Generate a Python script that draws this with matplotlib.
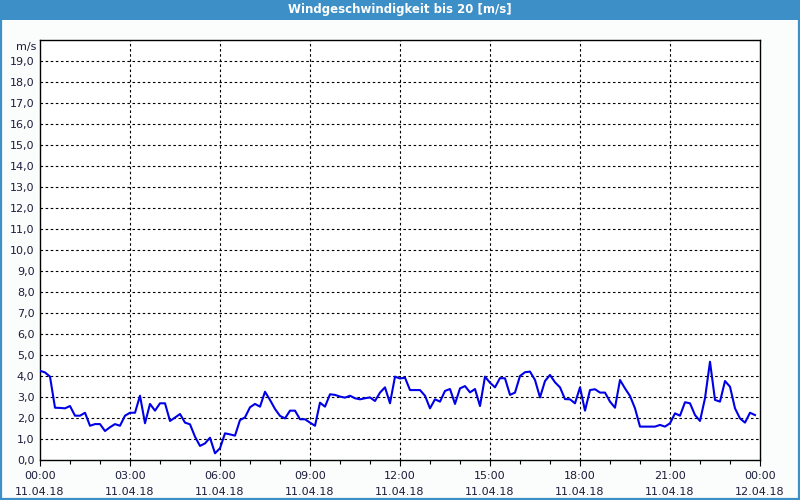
import matplotlib
matplotlib.use("Agg")
import matplotlib.pyplot as plt
from matplotlib.patches import Rectangle
from matplotlib.ticker import FuncFormatter, MultipleLocator
import numpy as np

title = "Windgeschwindigkeit bis 20 [m/s]"
unit = "m/s"

# wind speed, 10-minute samples starting 11.04.18 00:00
speed = [
    4.25, 4.17, 3.97, 2.49, 2.48, 2.46, 2.57, 2.11, 2.11, 2.25, 1.63, 1.71,
    1.71, 1.38, 1.56, 1.71, 1.63, 2.11, 2.25, 2.25, 3.06, 1.75, 2.67, 2.35,
    2.70, 2.70, 1.86, 2.02, 2.19, 1.78, 1.70, 1.11, 0.67, 0.79, 1.06, 0.32,
    0.56, 1.27, 1.22, 1.16, 1.90, 2.03, 2.51, 2.67, 2.54, 3.25, 2.86, 2.43,
    2.10, 1.98, 2.35, 2.35, 1.94, 1.94, 1.78, 1.63, 2.73, 2.54, 3.13, 3.10,
    3.02, 2.97, 3.06, 2.94, 2.89, 2.94, 2.98, 2.81, 3.21, 3.46, 2.70, 3.97,
    3.88, 3.92, 3.33, 3.33, 3.33, 3.06, 2.46, 2.89, 2.78, 3.29, 3.38, 2.67,
    3.41, 3.52, 3.22, 3.38, 2.57, 3.97, 3.68, 3.46, 3.90, 3.89, 3.10, 3.21,
    4.00, 4.18, 4.21, 3.81, 2.98, 3.76, 4.05, 3.70, 3.46, 2.90, 2.89, 2.70,
    3.46, 2.35, 3.33, 3.37, 3.21, 3.21, 2.78, 2.49, 3.81, 3.41, 3.05, 2.46,
    1.59, 1.59, 1.59, 1.59, 1.67, 1.59, 1.75, 2.22, 2.11, 2.75, 2.70, 2.14,
    1.86, 2.94, 4.68, 2.86, 2.78, 3.76, 3.49, 2.46, 1.98, 1.78, 2.25, 2.14,
]
hours = np.arange(len(speed)) / 6.0  # sample times in hours since 00:00

x_ticks = [0, 3, 6, 9, 12, 15, 18, 21, 24]
x_tick_labels = [
    "00:00\n11.04.18", "03:00\n11.04.18", "06:00\n11.04.18", "09:00\n11.04.18",
    "12:00\n11.04.18", "15:00\n11.04.18", "18:00\n11.04.18", "21:00\n11.04.18",
    "00:00\n12.04.18",
]

BLUE_BAR = "#3c8fc7"
TEXT = "#1c1c3c"

fig = plt.figure(figsize=(8, 5), dpi=100, facecolor="#fafdfb")

# title bar and frame
fig.patches.append(Rectangle((0, 0.96), 1, 0.04, transform=fig.transFigure,
                             facecolor=BLUE_BAR, edgecolor="none", zorder=0))
fig.patches.append(Rectangle((0.001, 0.002), 0.998, 0.996, transform=fig.transFigure,
                             facecolor="none", edgecolor=BLUE_BAR, lw=1.6, zorder=1))
fig.text(0.5, 0.98, title, color="white", ha="center", va="center",
         fontsize=8.5, fontweight="bold", family="DejaVu Sans")

ax = fig.add_axes([0.05, 0.08, 0.90, 0.84])
ax.set_facecolor("white")
ax.plot(hours, speed, color="#0000e6", lw=1.5, zorder=3, solid_joinstyle="round")

ax.set_xlim(0, 24)
ax.set_ylim(0, 20)
ax.yaxis.set_major_locator(MultipleLocator(1))
ax.yaxis.set_major_formatter(FuncFormatter(
    lambda v, p: "" if v >= 20 else f"{v:.1f}".replace(".", ",")))
ax.set_xticks(x_ticks)
ax.set_xticklabels(x_tick_labels, linespacing=1.75)
ax.xaxis.set_minor_locator(MultipleLocator(1))

ax.tick_params(axis="y", length=0, pad=4, labelsize=8, labelcolor=TEXT)
ax.tick_params(axis="x", which="major", length=4, width=0.8, pad=4,
               labelsize=8, labelcolor=TEXT, direction="out")
ax.tick_params(axis="x", which="minor", length=3, width=0.8, direction="out")

for s in ax.spines.values():
    s.set_color("black")
    s.set_linewidth(1.0)

for yv in range(1, 20):
    ax.axhline(yv, color="black", lw=0.8, dashes=(2.3, 2.3), zorder=1)
for xv in range(3, 24, 3):
    ax.axvline(xv, color="black", lw=0.8, dashes=(2.3, 2.3), zorder=1)

fig.text(0.045, 0.906, unit, ha="right", va="center", fontsize=8, color=TEXT)

fig.savefig("out.png", dpi=100, facecolor=fig.get_facecolor())
